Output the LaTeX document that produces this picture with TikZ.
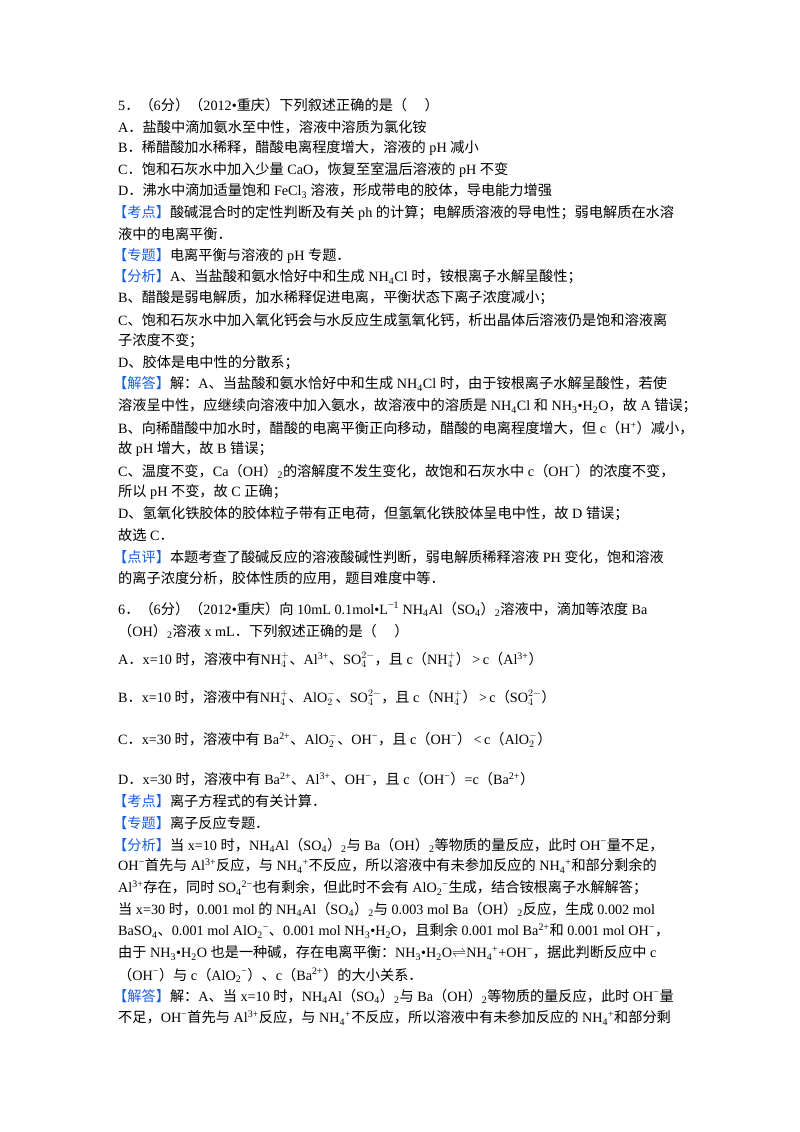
\documentclass[tikz,border=0pt]{standalone}
\usepackage{fontspec}
\setmainfont{Liberation Serif}
\newfontfamily\cjk{Noto Sans CJK SC}
\newcommand{\z}[1]{{\cjk #1}}
\newcommand{\sd}[1]{\textsubscript{#1}}
\newcommand{\su}[1]{\textsuperscript{#1}}
\newcommand{\ion}[3]{$\mathrm{#1}_{#2}^{#3}$}
\definecolor{kblue}{RGB}{25,95,225}
\newcommand{\tag}[1]{\textcolor{kblue}{\z{【#1】}}}
\tikzset{txt/.style={anchor=west,inner sep=0pt,font=\fontsize{14.2}{16}\selectfont}}
\begin{document}
\begin{tikzpicture}[x=1pt,y=-1pt]
\useasboundingbox[fill=white] (0,0) rectangle (800,1132);
\node[txt] (a1) at (118,105) {5\z{．}\z{（}6\z{分）（}2012•\z{重庆）下列叙述正确的是（\quad\ ）}};
\node[txt] (a2) at (118,127) {A\z{．盐酸中滴加氨水至中性，溶液中溶质为氯化铵}};
\node[txt] (a3) at (118,148) {B\z{．稀醋酸加水稀释，醋酸电离程度增大，溶液的} pH \z{减小}};
\node[txt] (a4) at (118,170) {C\z{．饱和石灰水中加入少量} CaO\z{，恢复至室温后溶液的} pH \z{不变}};
\node[txt] (a5) at (118,191) {D\z{．沸水中滴加适量饱和} FeCl\sd{3} \z{溶液，形成带电的胶体，导电能力增强}};
\node[txt] (a6) at (113,213) {\tag{考点}\z{酸碱混合时的定性判断及有关} ph \z{的计算；电解质溶液的导电性；弱电解质在水溶}};
\node[txt] (a7) at (118,234) {\z{液中的电离平衡．}};
\node[txt] (a8) at (113,256) {\tag{专题}\z{电离平衡与溶液的} pH \z{专题．}};
\node[txt] (a9) at (113,277) {\tag{分析}A\z{、当盐酸和氨水恰好中和生成} NH\sd{4}Cl \z{时，铵根离子水解呈酸性；}};
\node[txt] (a10) at (118,298) {B\z{、醋酸是弱电解质，加水稀释促进电离，平衡状态下离子浓度减小；}};
\node[txt] (a11) at (118,320) {C\z{、饱和石灰水中加入氧化钙会与水反应生成氢氧化钙，析出晶体后溶液仍是饱和溶液离}};
\node[txt] (a12) at (118,341) {\z{子浓度不变；}};
\node[txt] (a13) at (118,363) {D\z{、胶体是电中性的分散系；}};
\node[txt] (a14) at (113,384) {\tag{解答}\z{解：}A\z{、当盐酸和氨水恰好中和生成} NH\sd{4}Cl \z{时，由于铵根离子水解呈酸性，若使}};
\node[txt] (a15) at (118,406) {\z{溶液呈中性，应继续向溶液中加入氨水，故溶液中的溶质是} NH\sd{4}Cl \z{和} NH\sd{3}•H\sd{2}O\z{，故} A \z{错误；}};
\node[txt] (a16) at (118,428) {B\z{、向稀醋酸中加水时，醋酸的电离平衡正向移动，醋酸的电离程度增大，但} c\z{（}H\su{+}\z{）减小，}};
\node[txt] (a17) at (118,449) {\z{故} pH \z{增大，故} B \z{错误；}};
\node[txt] (a18) at (118,471) {C\z{、温度不变，}Ca\z{（}OH\z{）}\sd{2}\z{的溶解度不发生变化，故饱和石灰水中} c\z{（}OH\su{−}\z{）的浓度不变，}};
\node[txt] (a19) at (118,492) {\z{所以} pH \z{不变，故} C \z{正确；}};
\node[txt] (a20) at (118,514) {D\z{、氢氧化铁胶体的胶体粒子带有正电荷，但氢氧化铁胶体呈电中性，故} D \z{错误；}};
\node[txt] (a21) at (118,535) {\z{故选} C\z{．}};
\node[txt] (a22) at (113,557) {\tag{点评}\z{本题考查了酸碱反应的溶液酸碱性判断，弱电解质稀释溶液} PH \z{变化，饱和溶液}};
\node[txt] (a23) at (118,578) {\z{的离子浓度分析，胶体性质的应用，题目难度中等．}};
\node[txt] (b1) at (118,609) {6\z{．（}6\z{分）（}2012•\z{重庆）向} 10mL 0.1mol•L\su{−1} NH\sd{4}Al\z{（}SO\sd{4}\z{）}\sd{2}\z{溶液中，滴加等浓度} Ba};
\node[txt] (b2) at (118,631) {\z{（}OH\z{）}\sd{2}\z{溶液} x mL\z{．下列叙述正确的是（\quad\ ）}};
\node[txt] (b3) at (118,660) {A\z{．}x=10 \z{时，溶液中有}\ion{NH}{4}{+}\z{、}Al\su{3+}\z{、}\ion{SO}{4}{2-}\z{，且} c\z{（}\ion{NH}{4}{+}\z{）}\,{>}\,c\z{（}Al\su{3+}\z{）}};
\node[txt] (b4) at (118,698) {B\z{．}x=10 \z{时，溶液中有}\ion{NH}{4}{+}\z{、}\ion{AlO}{2}{-}\z{、}\ion{SO}{4}{2-}\z{，且} c\z{（}\ion{NH}{4}{+}\z{）}\,{>}\,c\z{（}\ion{SO}{4}{2-}\z{）}};
\node[txt] (b5) at (118,740) {C\z{．}x=30 \z{时，溶液中有} Ba\su{2+}\z{、}\ion{AlO}{2}{-}\z{、}OH\su{−}\z{，且} c\z{（}OH\su{−}\z{）}\,{<}\,c\z{（}\ion{AlO}{2}{-}\z{）}};
\node[txt] (b6) at (118,779) {D\z{．}x=30 \z{时，溶液中有} Ba\su{2+}\z{、}Al\su{3+}\z{、}OH\su{−}\z{，且} c\z{（}OH\su{−}\z{）}=c\z{（}Ba\su{2+}\z{）}};
\node[txt] (b7) at (113,801) {\tag{考点}\z{离子方程式的有关计算．}};
\node[txt] (b8) at (113,823) {\tag{专题}\z{离子反应专题．}};
\node[txt] (b9) at (113,845) {\tag{分析}\z{当} x=10 \z{时，}NH\sd{4}Al\z{（}SO\sd{4}\z{）}\sd{2}\z{与} Ba\z{（}OH\z{）}\sd{2}\z{等物质的量反应，此时} OH\su{−}\z{量不足，}};
\node[txt] (b10) at (118,866) {OH\su{−}\z{首先与} Al\su{3+}\z{反应，与} NH\sd{4}\su{+}\z{不反应，所以溶液中有未参加反应的} NH\sd{4}\su{+}\z{和部分剩余的}};
\node[txt] (b11) at (118,888) {Al\su{3+}\z{存在，同时} SO\sd{4}\su{2−}\z{也有剩余，但此时不会有} AlO\sd{2}\su{−}\z{生成，结合铵根离子水解解答；}};
\node[txt] (b12) at (118,909) {\z{当} x=30 \z{时，}0.001 mol \z{的} NH\sd{4}Al\z{（}SO\sd{4}\z{）}\sd{2}\z{与} 0.003 mol Ba\z{（}OH\z{）}\sd{2}\z{反应，生成} 0.002 mol};
\node[txt] (b13) at (118,931) {BaSO\sd{4}\z{、}0.001 mol AlO\sd{2}\su{−}\z{、}0.001 mol NH\sd{3}•H\sd{2}O\z{，且剩余} 0.001 mol Ba\su{2+}\z{和} 0.001 mol OH\su{−}\z{，}};
\node[txt] (b14) at (118,953) {\z{由于} NH\sd{3}•H\sd{2}O \z{也是一种碱，存在电离平衡：}NH\sd{3}•H\sd{2}O$\rightleftharpoons$NH\sd{4}\su{+}+OH\su{−}\z{，据此判断反应中} c};
\node[txt] (b15) at (118,975) {\z{（}OH\su{−}\z{）与} c\z{（}AlO\sd{2}\su{−}\z{）、}c\z{（}Ba\su{2+}\z{）的大小关系．}};
\node[txt] (b16) at (113,996) {\tag{解答}\z{解：}A\z{、当} x=10 \z{时，}NH\sd{4}Al\z{（}SO\sd{4}\z{）}\sd{2}\z{与} Ba\z{（}OH\z{）}\sd{2}\z{等物质的量反应，此时} OH\su{−}\z{量}};
\node[txt] (b17) at (118,1018) {\z{不足，}OH\su{−}\z{首先与} Al\su{3+}\z{反应，与} NH\sd{4}\su{+}\z{不反应，所以溶液中有未参加反应的} NH\sd{4}\su{+}\z{和部分剩}};
\end{tikzpicture}
\end{document}
